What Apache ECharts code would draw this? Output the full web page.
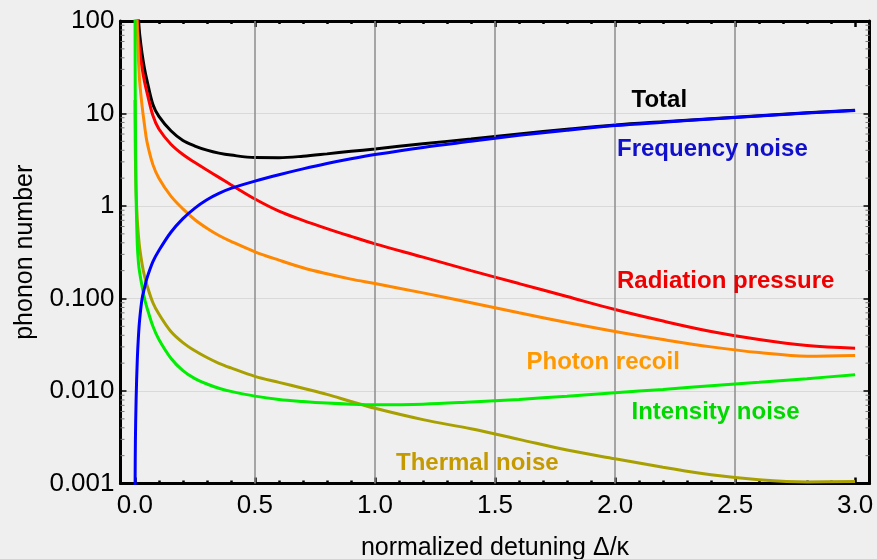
<!DOCTYPE html>
<html>
<head>
<meta charset="utf-8">
<script src="https://cdn.jsdelivr.net/npm/echarts@6/dist/echarts.min.js"></script>
<style>
  html, body { margin: 0; padding: 0; background: #efefef; }
  #chart { width: 877px; height: 559px; }
</style>
</head>
<body>
<div id="chart"></div>
<script>
// Detuning samples (shared by all curves)
const detuning = [0.0005, 0.001, 0.002, 0.005, 0.01, 0.015, 0.02, 0.03, 0.04, 0.05, 0.075, 0.1, 0.15, 0.2, 0.25, 0.3, 0.35, 0.4, 0.5, 0.6, 0.7, 0.8, 0.9, 1.0, 1.2, 1.4, 1.6, 1.8, 2.0, 2.2, 2.4, 2.6, 2.8, 3.0];

// Phonon number contributions
const total = [4000, 2000, 1000, 400, 180, 104, 71, 44, 30.5, 23, 12.5, 9.3, 6.5, 5.1, 4.45, 4.02, 3.73, 3.55, 3.34, 3.33, 3.45, 3.66, 3.9, 4.14, 4.71, 5.3, 6.02, 6.77, 7.53, 8.16, 8.8, 9.47, 10.17, 10.87];
const radiationPressure = [2000, 1000, 500, 200, 100, 65, 48, 31, 22, 17, 9.5, 6.8, 4.65, 3.6, 2.95, 2.45, 2.04, 1.7, 1.19, 0.88, 0.70, 0.57, 0.47, 0.39, 0.28, 0.2, 0.145, 0.105, 0.076, 0.057, 0.044, 0.036, 0.031, 0.029];
const photonRecoil = [2000, 1000, 500, 200, 80, 38, 22, 12, 7.5, 5.0, 2.8, 2.0, 1.28, 0.93, 0.71, 0.575, 0.48, 0.415, 0.32, 0.26, 0.215, 0.185, 0.162, 0.145, 0.115, 0.09, 0.07, 0.055, 0.044, 0.036, 0.03, 0.026, 0.0238, 0.0242];
const thermalNoise = [14, 7, 3.5, 1.4, 0.7, 0.47, 0.35, 0.235, 0.175, 0.14, 0.09, 0.068, 0.044, 0.0334, 0.0272, 0.023, 0.0199, 0.01775, 0.0144, 0.0124, 0.0107, 0.0092, 0.0077, 0.0065, 0.0049, 0.0039, 0.0030, 0.0023, 0.00185, 0.0015, 0.00124, 0.0011, 0.00104, 0.00105];
const intensityNoise = [150, 38, 9, 1.3, 0.38, 0.24, 0.19, 0.135, 0.1, 0.08, 0.05, 0.036, 0.0226, 0.0166, 0.0136, 0.0119, 0.0107, 0.0099, 0.0088, 0.0081, 0.0077, 0.0074, 0.0072, 0.0071, 0.0072, 0.0076, 0.0081, 0.0088, 0.0096, 0.0104, 0.0114, 0.0124, 0.0136, 0.0150];
const frequencyNoise = [0.0006, 0.0012, 0.0028, 0.008, 0.022, 0.04, 0.06, 0.1, 0.13, 0.165, 0.25, 0.33, 0.52, 0.73, 0.95, 1.17, 1.37, 1.55, 1.86, 2.18, 2.52, 2.88, 3.24, 3.6, 4.3, 5.0, 5.8, 6.6, 7.4, 8.05, 8.72, 9.4, 10.1, 10.8];

// Axis ticks and labels
const xMajorTicks = [0, 0.5, 1.0, 1.5, 2.0, 2.5, 3.0];
const xMinorTicks = [0.1, 0.2, 0.3, 0.4, 0.6, 0.7, 0.8, 0.9, 1.1, 1.2, 1.3, 1.4, 1.6, 1.7, 1.8, 1.9, 2.1, 2.2, 2.3, 2.4, 2.6, 2.7, 2.8, 2.9];
const xGridLines = [0.5, 1.0, 1.5, 2.0, 2.5];
const yTickValues = [0.001, 0.01, 0.1, 1, 10, 100];
const yTickLabels = ['0.001', '0.010', '0.100', '1', '10', '100'];
const yMinorTicks = [0.002, 0.003, 0.004, 0.005, 0.006, 0.007, 0.008, 0.009,
  0.02, 0.03, 0.04, 0.05, 0.06, 0.07, 0.08, 0.09,
  0.2, 0.3, 0.4, 0.5, 0.6, 0.7, 0.8, 0.9,
  2, 3, 4, 5, 6, 7, 8, 9,
  20, 30, 40, 50, 60, 70, 80, 90];

const X_MIN = -0.06, X_MAX = 3.06;
const FONT = '"Liberation Sans", Arial, sans-serif';

const chart = echarts.init(document.getElementById('chart'), null, { renderer: 'canvas' });

const pairs = vals => detuning.map((x, i) => [x, vals[i]]);

function curve(name, vals, color, z) {
  return {
    name, type: 'line', data: pairs(vals), showSymbol: false, symbol: 'none',
    smooth: 0.35, clip: true, z,
    lineStyle: { color, width: 3 }, silent: true, animation: false
  };
}

function frameX(position, withLabels, minor) {
  const ax = {
    type: 'value', min: X_MIN, max: X_MAX, position,
    splitLine: { show: false },
    axisLine: { show: !minor, onZero: false, lineStyle: { color: '#000', width: 3 } },
    axisTick: {
      show: true, inside: true, length: minor ? 3 : 6,
      customValues: minor ? xMinorTicks : xMajorTicks,
      lineStyle: { color: '#000', width: 2.5 }
    },
    axisLabel: { show: false }
  };
  if (withLabels) {
    ax.axisLabel = {
      show: true, margin: 9, color: '#000', fontSize: 26, fontFamily: FONT,
      customValues: xMajorTicks,
      formatter: v => v.toFixed(1)
    };
    ax.name = 'normalized detuning \u0394/\u03ba';
    ax.nameLocation = 'middle';
    ax.nameGap = 52;
    ax.nameTextStyle = { color: '#000', fontSize: 25, fontFamily: FONT };
  }
  return ax;
}

const option = {
  backgroundColor: '#efefef',
  animation: false,
  grid: { left: 120.5, right: 7.5, top: 21, bottom: 75.5, containLabel: false, outerBoundsMode: 'none' },
  xAxis: [
    frameX('bottom', true, false),
    frameX('bottom', false, true),
    frameX('top', false, false),
    frameX('top', false, true)
  ],
  yAxis: [
    {
      type: 'log', logBase: 10, min: 0.001, max: 100, position: 'left',
      axisLine: { show: true, onZero: false, lineStyle: { color: '#000', width: 3 } },
      axisTick: { show: true, inside: true, length: 6, lineStyle: { color: '#000', width: 1.5 } },
      axisLabel: {
        color: '#000', fontSize: 26, fontFamily: FONT, margin: 6,
        formatter: v => {
          const i = yTickValues.findIndex(t => Math.abs(Math.log10(t) - Math.log10(v)) < 1e-6);
          return i >= 0 ? yTickLabels[i] : '';
        }
      },
      splitLine: { show: true, lineStyle: { color: '#d9d9d9', width: 1 } },
      name: 'phonon number', nameLocation: 'middle', nameGap: 83, nameRotate: 90,
      nameTextStyle: { color: '#000', fontSize: 25, fontFamily: FONT }
    },
    {
      type: 'log', logBase: 10, min: 0.001, max: 100, position: 'right',
      axisLine: { show: true, onZero: false, lineStyle: { color: '#000', width: 3 } },
      axisTick: { show: true, inside: true, length: 6, lineStyle: { color: '#000', width: 1.5 } },
      axisLabel: { show: false },
      splitLine: { show: false }
    }
  ],
  series: [
    {
      name: 'grid', type: 'line', data: [], z: 1, silent: true,
      markLine: {
        silent: true, symbol: ['none', 'none'], label: { show: false },
        lineStyle: { color: '#8c8c8c', width: 1.5, type: 'solid' },
        data: xGridLines.map(x => ({ xAxis: x }))
      }
    },
    {
      name: 'minorTicks', type: 'custom', z: 1, silent: true,
      data: yMinorTicks.map(v => [0, v]),
      renderItem: (params, api) => {
        const y = api.coord([0, api.value(1)])[1];
        const cs = params.coordSys;
        const l = cs.x, r = cs.x + cs.width;
        return {
          type: 'group',
          children: [
            { type: 'line', shape: { x1: l, y1: y, x2: l + 4, y2: y }, style: { stroke: '#777', lineWidth: 1 } },
            { type: 'line', shape: { x1: r - 4, y1: y, x2: r, y2: y }, style: { stroke: '#777', lineWidth: 1 } }
          ]
        };
      }
    },
    curve('Total', total, '#000000', 3),
    curve('Radiation pressure', radiationPressure, '#ff0000', 4),
    curve('Photon recoil', photonRecoil, '#ff8800', 5),
    curve('Thermal noise', thermalNoise, '#a8a000', 6),
    curve('Intensity noise', intensityNoise, '#00ee00', 7),
    curve('Frequency noise', frequencyNoise, '#0000ff', 8)
  ],
  graphic: [
    ['Total', 631.5, 100.5, '#000000'],
    ['Frequency noise', 617, 149.5, '#1010cc'],
    ['Radiation pressure', 617, 281, '#ee0000'],
    ['Photon recoil', 526.5, 362, '#ff9900'],
    ['Intensity noise', 631.5, 412.5, '#00d800'],
    ['Thermal noise', 396, 463.5, '#c49a00']
  ].map(([text, x, y, fill]) => ({
    type: 'text', x, y, z: 100, silent: true,
    style: { text, fill, font: 'bold 24px ' + FONT, align: 'left', verticalAlign: 'middle' }
  }))
};

chart.setOption(option);
</script>
</body>
</html>
